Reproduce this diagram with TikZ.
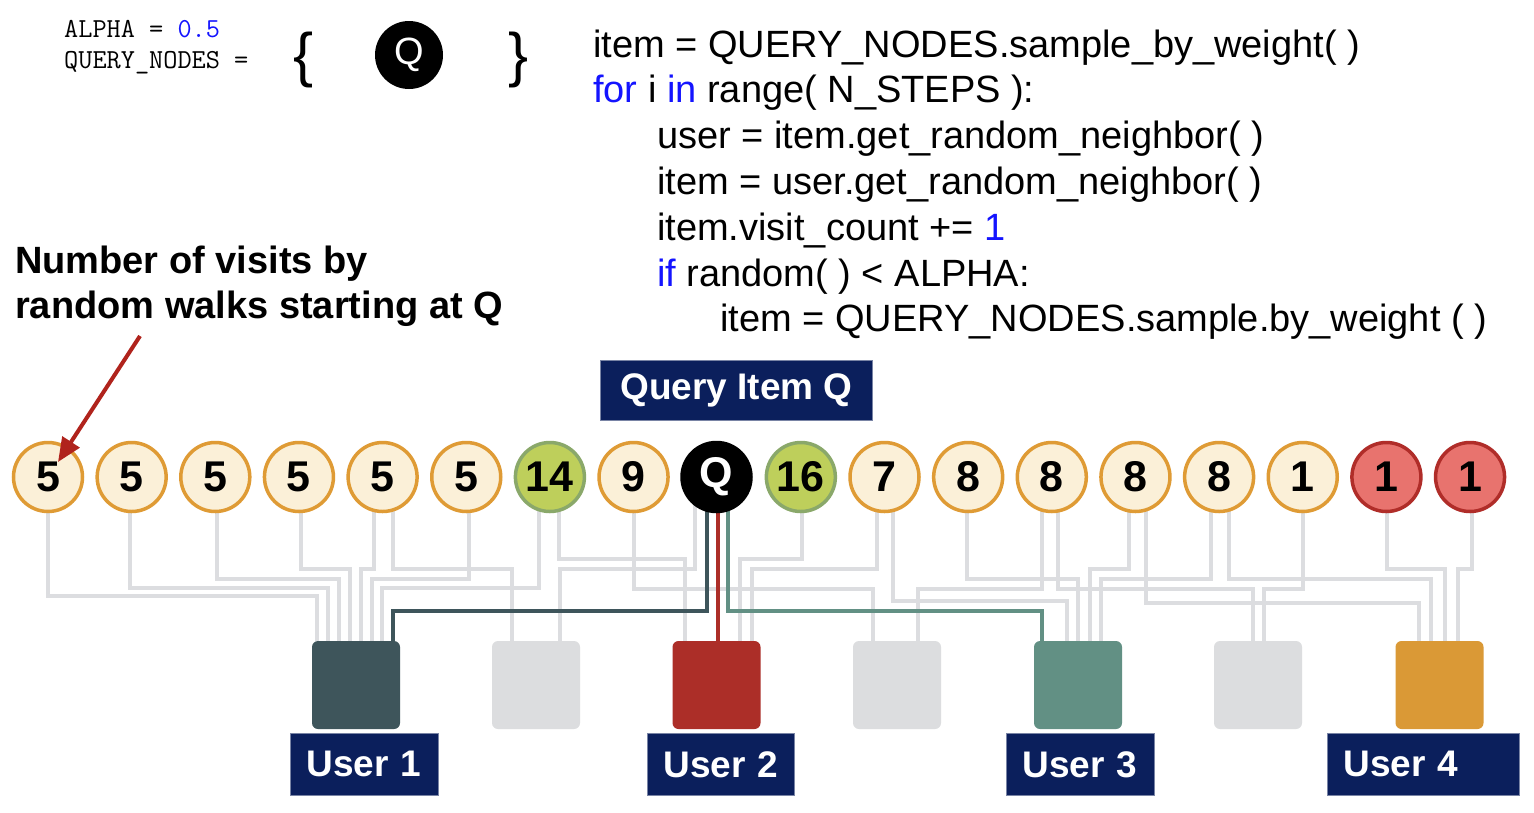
\documentclass[tikz,border=0pt]{standalone}
\usepackage{fontspec}
\setmainfont{Liberation Sans}
\usetikzlibrary{arrows.meta,calc}
\pgfdeclarelayer{background}
\pgfsetlayers{background,main}
\definecolor{wiregray}{HTML}{DCDDE0}
\definecolor{cream}{HTML}{FBF0D8}
\definecolor{orng}{HTML}{DF9B35}
\definecolor{grnfill}{HTML}{BECF5B}
\definecolor{grnline}{HTML}{8AA86A}
\definecolor{redfill}{HTML}{E8736E}
\definecolor{redline}{HTML}{B02D29}
\definecolor{uone}{HTML}{3E555B}
\definecolor{utwo}{HTML}{AC2E28}
\definecolor{uthree}{HTML}{629084}
\definecolor{ufour}{HTML}{DA9936}
\definecolor{boxgray}{HTML}{DCDDDF}
\definecolor{navy}{HTML}{0B1F5C}
\definecolor{codeblue}{HTML}{1414FF}
\definecolor{arrred}{HTML}{B0231C}
\newcommand\kw[1]{{\color{codeblue}#1}}
\newcommand\wirerun[6][wire]{\draw[#1] (perpendicular cs: horizontal line through={(#2.center)}, vertical line through={(#3,0)}) |- (#5,#4) -- (perpendicular cs: horizontal line through={(#6.north)}, vertical line through={(#5,0)});}
\tikzset{
  visit/.style={circle, minimum size=69pt, inner sep=0pt, line width=3.5pt, draw=orng, fill=cream, font=\fontsize{43}{43}\selectfont\bfseries},
  hot/.style={visit, draw=grnline, fill=grnfill},
  cold/.style={visit, draw=redline, fill=redfill},
  qnode/.style={visit, draw=black, fill=black, text=white},
  userbox/.style={rounded corners=6pt, minimum width=88pt, minimum height=88pt, inner sep=0pt},
  tag/.style={fill=navy, draw=navy!55!white, line width=0.8pt, text=white, font=\fontsize{37}{37}\selectfont\bfseries, minimum height=62pt, inner xsep=14pt, inner ysep=0pt, align=left, anchor=north west},
  wire/.style={draw=wiregray, line width=4pt},
  codeline/.style={anchor=base west, inner sep=0pt, font=\fontsize{38}{45}\selectfont},
  note/.style={anchor=base west, inner sep=0pt, font=\fontsize{38}{45}\selectfont\bfseries},
  monoline/.style={anchor=base west, inner sep=0pt, font=\ttfamily\fontsize{27.5}{30}\selectfont},
  pointer/.style={draw=arrred, line width=4pt, -{Triangle[length=24pt,width=20pt]}, arrred}
}
\begin{document}
\begin{tikzpicture}[x=1pt,y=-1pt]
\useasboundingbox (0,0) rectangle (1534,812);

% top-left definitions
\node[monoline] (alpha) at (64,37) {ALPHA = \kw{0.5}};
\node[monoline] (qn) at (64,68) {QUERY\_NODES =};
\node[anchor=base west, inner sep=0pt, font=\fontsize{60}{60}\selectfont] (lbrace) at (293,75) {\{};
\node[circle, fill=black, minimum size=68pt, inner sep=0pt, text=white, font=\fontsize{38}{38}\selectfont] (qtop) at (409,55) {Q};
\node[anchor=base west, inner sep=0pt, font=\fontsize{60}{60}\selectfont] (rbrace) at (508,75) {\}};

% code
\node[codeline] (code1) at (593,57) {item = QUERY\_NODES.sample\_by\_weight( )};
\node[codeline] (code2) at (593,102.5) {\kw{for} i \kw{in} range( N\_STEPS ):};
\node[codeline] (code3) at (657,148) {user = item.get\_random\_neighbor( )};
\node[codeline] (code4) at (657,194) {item = user.get\_random\_neighbor( )};
\node[codeline] (code5) at (657,240) {item.visit\_count += \kw{1}};
\node[codeline] (code6) at (657,286) {\kw{if} random( ) < ALPHA:};
\node[codeline] (code7) at (720,331) {item = QUERY\_NODES.sample.by\_weight ( )};

% annotation
\node[note] (note1) at (15,273) {Number of visits by};
\node[note] (note2) at (15,318) {random walks starting at Q};

% query tag
\node[tag, align=center, minimum width=272pt, minimum height=60pt] (qtag) at (600,360) {Query Item Q};

% item circles
\node[visit] (c1) at (48,477) {5};
\node[visit] (c2) at (131.65,477) {5};
\node[visit] (c3) at (215.3,477) {5};
\node[visit] (c4) at (298.95,477) {5};
\node[visit] (c5) at (382.6,477) {5};
\node[visit] (c6) at (466.25,477) {5};
\node[hot] (c7) at (549.9,477) {14};
\node[visit] (c8) at (633.55,477) {9};
\node[qnode] (c9) at (716.5,477) {Q};
\node[hot] (c10) at (800.85,477) {16};
\node[visit] (c11) at (884.5,477) {7};
\node[visit] (c12) at (968.15,477) {8};
\node[visit] (c13) at (1051.8,477) {8};
\node[visit] (c14) at (1135.45,477) {8};
\node[visit] (c15) at (1219.1,477) {8};
\node[visit] (c16) at (1302.75,477) {1};
\node[cold] (c17) at (1386.4,477) {1};
\node[cold] (c18) at (1470.05,477) {1};

% user boxes
\node[userbox, fill=uone] (u1) at (356,685) {};
\node[userbox, fill=boxgray] (g2) at (536,685) {};
\node[userbox, fill=utwo] (u2) at (716.5,685) {};
\node[userbox, fill=boxgray] (g4) at (897,685) {};
\node[userbox, fill=uthree] (u3) at (1078,685) {};
\node[userbox, fill=boxgray] (g6) at (1258,685) {};
\node[userbox, fill=ufour] (u4) at (1439.5,685) {};

% user tags
\node[tag, text width=120pt] (t1) at (290,733) {\hspace*{2pt}User 1};
\node[tag, text width=119pt] (t2) at (647,733) {\hspace*{2pt}User 2};
\node[tag, text width=120pt] (t3) at (1006,733) {\hspace*{2pt}User 3};
\node[tag, text width=164pt] (t4) at (1327,733) {\hspace*{2pt}User 4};

% annotation arrow
\coordinate (arrtail) at (140,336);
\draw[pointer] (arrtail) -- ([shift={(10,-15)}]c1.center);

\begin{pgfonlayer}{background}
\fill[white] (0,0) rectangle (1534,812);
% gray wires
\wirerun{c1}{48}{596}{317}{u1}
\wirerun{c2}{130}{588}{328}{u1}
\wirerun{c3}{217}{579}{339}{u1}
\wirerun{c4}{301}{569}{350}{u1}
\wirerun{c5}{374}{569}{361}{u1}
\wirerun{c5}{393}{569}{512}{g2}
\wirerun{c6}{469}{579}{372}{u1}
\wirerun{c7}{539}{588}{382}{u1}
\wirerun{c7}{559}{559}{685}{u2}
\wirerun{c8}{634}{589}{873}{g4}
\wirerun{c9}{695}{569}{560}{g2}
\wirerun{c10}{802}{559}{740}{u2}
\wirerun{c11}{877}{569}{752}{u2}
\wirerun{c11}{893}{601}{1067}{u3}
\wirerun{c12}{967}{579}{1078}{u3}
\wirerun{c13}{1042}{589}{918}{g4}
\wirerun{c13}{1058}{589}{1253}{g6}
\wirerun{c14}{1129}{569}{1090}{u3}
\wirerun{c14}{1146}{603}{1419}{u4}
\wirerun{c15}{1211}{579}{1101}{u3}
\wirerun{c15}{1229}{579}{1431}{u4}
\wirerun{c16}{1303}{589}{1264}{g6}
\wirerun{c17}{1387}{569}{1445}{u4}
\wirerun{c18}{1472}{569}{1458}{u4}
% coloured wires from Q
\wirerun[wire, draw=uone]{c9}{707}{611}{393}{u1}
\wirerun[wire, draw=uthree]{c9}{728}{611}{1042}{u3}
\draw[wire, draw=utwo] (perpendicular cs: horizontal line through={(c9.center)}, vertical line through={(718,0)}) -- (perpendicular cs: horizontal line through={(u2.north)}, vertical line through={(718,0)});
\end{pgfonlayer}
\end{tikzpicture}
\end{document}
